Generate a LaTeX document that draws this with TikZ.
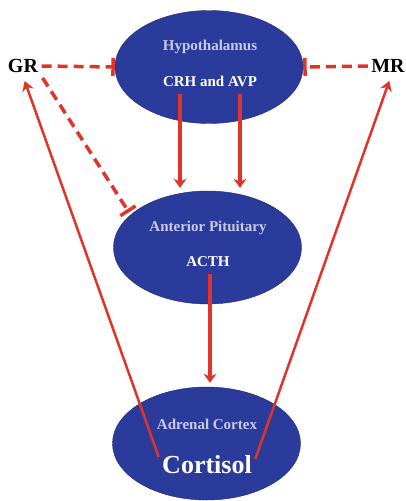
\documentclass[tikz,border=0pt]{standalone}
\usepackage{fontspec}
\setmainfont{Liberation Serif}
\usepackage{tikz}
\usetikzlibrary{arrows.meta,shapes.geometric}
\definecolor{hpa-blue}{HTML}{2B3B9B}
\definecolor{hpa-edge}{HTML}{1C276E}
\definecolor{hpa-red}{HTML}{E0342A}
\definecolor{hpa-label}{HTML}{C9CBEB}
\tikzset{
    gland/.style={ellipse, fill=hpa-blue, draw=hpa-edge, thin, minimum width=188pt, minimum height=113pt, inner sep=0pt},
    organ/.style={text=hpa-label, font=\bfseries\fontsize{15}{17}\selectfont},
    hormone/.style={text=white, font=\bfseries\fontsize{15}{17}\selectfont},
    receptor/.style={font=\bfseries\fontsize{20}{23}\selectfont},
    stim/.style={hpa-red, line width=3.5pt, -{Stealth[length=9pt,width=13pt]}},
    feedback/.style={hpa-red, line width=2.5pt, -{Stealth[length=10pt,width=12pt]}},
    inhib/.style={hpa-red, line width=3.5pt, dash pattern=on 10pt off 6pt, -{Bar[width=18pt,line width=3.5pt]}}
}

\begin{document}
\begin{tikzpicture}[x=1pt, y=-1pt]
    \useasboundingbox (0,0) rectangle (406,501);
    \node[gland] (hyp) at (209,67) {};
    \node[gland] (pit) at (207.5,247.5) {};
    \node[gland] (adr) at (206.5,443.5) {};
    \node[organ] (hypname) at (210,47) {Hypothalamus};
    \node[hormone] (crh) at (210,81) {CRH and AVP};
    \node[organ] (pitname) at (208,228) {Anterior Pituitary};
    \node[hormone] (acth) at (208,262) {ACTH};
    \node[organ] (adrname) at (207,424) {Adrenal Cortex};
    \node[hormone, font=\bfseries\fontsize{26}{30}\selectfont] (cort) at (207,465) {Cortisol};
    \node[receptor] (gr) at (23,66) {GR};
    \node[receptor] (mr) at (388,66) {MR};
    \draw[stim, shorten <=4pt, shorten >=3pt] ([xshift=-30pt]crh.south) -- ([xshift=-30pt]crh.south |- pit.north);
    \draw[stim, shorten <=4pt, shorten >=3pt] ([xshift=30pt]crh.south) -- ([xshift=30pt]crh.south |- pit.north);
    \draw[stim, shorten <=3pt, shorten >=4pt] ([xshift=2pt]acth.south) -- ([xshift=2pt]acth.south |- adr.north);
    \draw[inhib] (gr.east) -- (hyp.west);
    \draw[inhib] (mr.west) -- (hyp.east);
    \draw[inhib, shorten <=2pt, shorten >=3pt] (gr.south east) -- (pit.157);
    \draw[feedback, shorten >=5pt] ([yshift=8pt]cort.west) -- (gr.south);
    \draw[feedback, shorten >=5pt] ([yshift=6pt]cort.east) -- ([xshift=3pt]mr.south);
\end{tikzpicture}
\end{document}
